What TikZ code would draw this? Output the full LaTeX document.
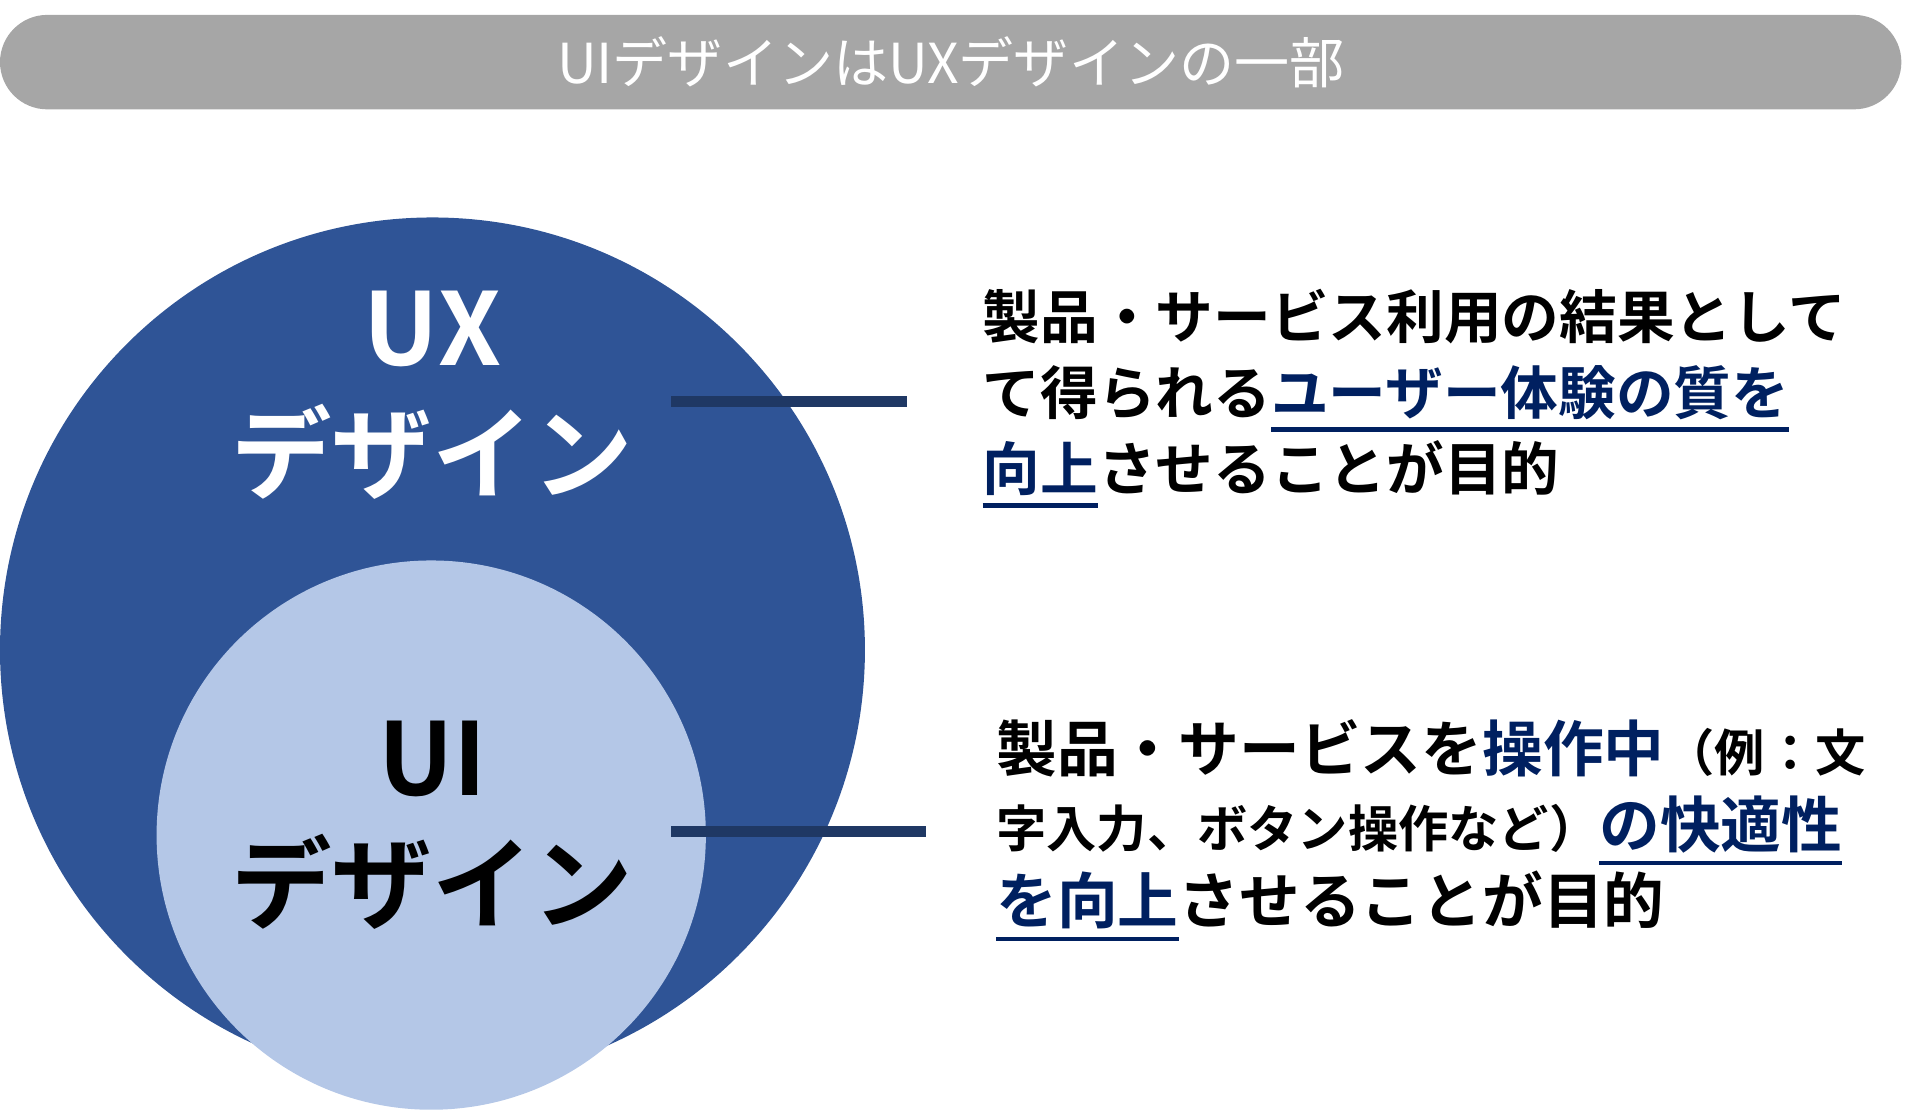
\documentclass[tikz,border=0pt]{standalone}
\usepackage{fontspec}
\setmainfont{Noto Sans CJK JP}[BoldFont={Noto Sans CJK JP Bold}]
\usepackage{xcolor}
\definecolor{ux-blue}{RGB}{47,84,150}
\definecolor{ui-blue}{RGB}{180,199,231}
\definecolor{navy}{RGB}{31,56,100}
\definecolor{ink-blue}{RGB}{0,32,96}
\definecolor{bar-gray}{RGB}{166,166,166}
\newcommand{\ulink}[1]{{\color{ink-blue}\setbox0\hbox{#1}\rlap{\rule[-0.3em]{\wd0}{1.1pt}}\box0}}
\newcommand{\smalltxt}[1]{{\fontsize{11.5}{14}\selectfont #1}}

\begin{document}
\begin{tikzpicture}[x=0.01cm, y=-0.01cm,
    title bar/.style={
        fill=bar-gray,
        rounded corners=0.38cm
    },
    circle label/.style={
        font=\fontsize{23}{31}\selectfont\bfseries,
        align=center
    },
    leader/.style={navy, line width=2.4pt},
    note/.style={
        font=\bfseries,
        align=left,
        anchor=north west,
        inner sep=0pt
    }
]
\useasboundingbox (0,0) rectangle (1545,895);

% Title bar
\fill[title bar] (0,12) rectangle (1530,88);
\node[text=white, font=\fontsize{12.6}{14}\selectfont] (title) at (765,50) {UIデザインはUXデザインの一部};

% Circles
\fill[ux-blue] (348,523) circle (348);
\fill[ui-blue] (347,672) circle (221);

% Circle labels
\node[circle label, text=white] (uxlabel) at (348,318) {UX\\[-2pt]デザイン};
\node[circle label, text=black] (uilabel) at (348,664) {UI\\[-2pt]デザイン};

% Leader anchors
\coordinate (uxend) at (540,323);
\coordinate (uiend) at (540,669);

% Descriptions
\node[note, font=\fontsize{13.2}{17.4}\selectfont\bfseries] (uxnote) at (790,232)
    {製品・サービス利用の結果として\\
     て得られる\ulink{ユーザー体験の質を}\\
     \ulink{向上}させることが目的};
\node[note, font=\fontsize{13.9}{17.4}\selectfont\bfseries] (uinote) at (801,578)
    {製品・サービスを{\color{ink-blue}操作中}\smalltxt{（例：文}\\
     \smalltxt{字入力、ボタン操作など）}\ulink{の快適性}\\
     \ulink{を向上}させることが目的};

% Leaders
\draw[leader] (uxend) -- ([xshift=-17]uxend -| uxnote.west);
\draw[leader] (uiend) -- ([xshift=-16]uiend -| uinote.west);

\end{tikzpicture}
\end{document}
